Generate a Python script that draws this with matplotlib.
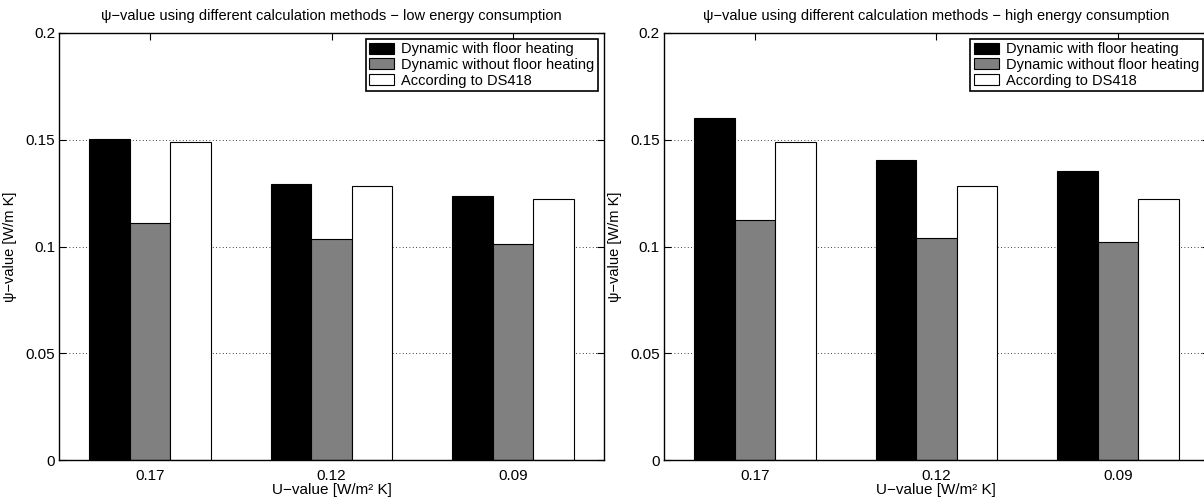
import matplotlib
matplotlib.use("Agg")
import matplotlib.pyplot as plt
import numpy as np

plt.rcParams['font.family'] = ['Liberation Sans', 'DejaVu Sans']

categories = ["0.17", "0.12", "0.09"]
series_names = ["Dynamic with floor heating", "Dynamic without floor heating", "According to DS418"]

low_dyn_floor = [0.1505, 0.1290, 0.1234]
low_dyn_nofloor = [0.1112, 0.1033, 0.1012]
low_ds418 = [0.1487, 0.1282, 0.1224]

high_dyn_floor = [0.1603, 0.1405, 0.1352]
high_dyn_nofloor = [0.1126, 0.1042, 0.1019]
high_ds418 = [0.1487, 0.1282, 0.1224]

titles = ["\u03c8\u2212value using different calculation methods \u2212 low energy consumption",
          "\u03c8\u2212value using different calculation methods \u2212 high energy consumption"]
yticks = [0, 0.05, 0.1, 0.15, 0.2]
ytick_labels = ["0", "0.05", "0.1", "0.15", "0.2"]

colors = ["#000000", "#808080", "#ffffff"]

W, H = 1204, 497
fig = plt.figure(figsize=(W / 100, H / 100), dpi=100)

ax_h = (460.3 - 32.7) / H
ax_b = (H - 460.3) / H
ax_w = 544.7 / W
axes = [fig.add_axes([59.3 / W, ax_b, ax_w, ax_h]),
        fig.add_axes([664.0 / W, ax_b, ax_w, ax_h])]

datasets = [[low_dyn_floor, low_dyn_nofloor, low_ds418],
            [high_dyn_floor, high_dyn_nofloor, high_ds418]]

x = np.arange(1, len(categories) + 1)
bw = 0.2233
fs = 10.5
tfs = 11

for ax, data, title in zip(axes, datasets, titles):
    for i, (vals, c, name) in enumerate(zip(data, colors, series_names)):
        ax.bar(x + (i - 1) * bw, vals, width=bw, color=c, edgecolor="black",
               linewidth=0.8, label=name, zorder=2)
    ax.set_xlim(0.5, 3.5)
    ax.set_ylim(0, 0.2)
    ax.set_xticks(x)
    ax.set_xticklabels(categories, fontsize=tfs)
    ax.set_yticks(yticks)
    ax.set_yticklabels(ytick_labels, fontsize=tfs)
    ax.tick_params(direction="in", length=5, width=0.8, top=True, right=True)
    ax.tick_params(axis="x", pad=6)
    ax.tick_params(axis="y", pad=3)
    ax.yaxis.grid(True, linestyle=(0, (1, 3)), color="black", linewidth=0.6)
    ax.set_axisbelow(True)
    for sp in ax.spines.values():
        sp.set_linewidth(1.0)
    ax.set_title(title, fontsize=fs, pad=9)
    ax.set_xlabel("U\u2212value [W/m\u00b2 K]", fontsize=tfs, labelpad=0)
    ax.set_ylabel("\u03c8\u2212value [W/m K]", fontsize=fs, labelpad=6)
    leg = ax.legend(loc="upper right", fontsize=fs, frameon=True, fancybox=False,
                    edgecolor="black", framealpha=1, handlelength=1.7, handleheight=0.8,
                    handletextpad=0.5, labelspacing=0.12, borderpad=0.25, borderaxespad=0.4)
    leg.get_frame().set_linewidth(1.2)

fig.savefig("out.png", dpi=100)
